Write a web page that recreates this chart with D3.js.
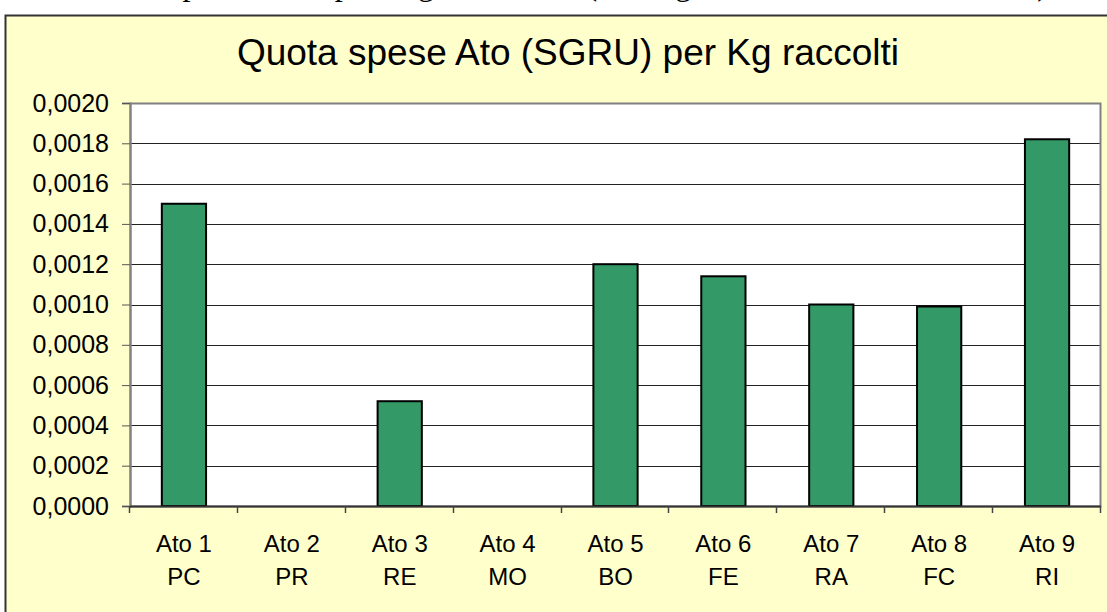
<!DOCTYPE html>
<html>
<head>
<meta charset="utf-8">
<script src="https://cdn.jsdelivr.net/npm/d3@7"></script>
<style>
  body { margin: 0; background: #fff; }
  svg { display: block; }
</style>
</head>
<body>
<svg id="drawing_region"></svg>
<script>
// data
const atoNames = ["Ato 1", "Ato 2", "Ato 3", "Ato 4", "Ato 5", "Ato 6", "Ato 7", "Ato 8", "Ato 9"];
const provinces = ["PC", "PR", "RE", "MO", "BO", "FE", "RA", "FC", "RI"];
const quota = [0.0015, 0, 0.00052, 0, 0.0012, 0.00114, 0.001, 0.00099, 0.00182];
const yTicks = [0, 0.0002, 0.0004, 0.0006, 0.0008, 0.0010, 0.0012, 0.0014, 0.0016, 0.0018, 0.0020];

const W = 1107, H = 612;
const plot = { left: 130, top: 103, right: 1101, bottom: 506 };

const svg = d3.select('#drawing_region')
    .attr('width', W)
    .attr('height', H);

// clipped caption line of the page above the chart
svg.append('text')
    .attr('x', 58)
    .attr('y', -5)
    .attr('textLength', 990)
    .attr('lengthAdjust', 'spacing')
    .style('font-family', '"Liberation Serif", "Times New Roman", serif')
    .style('font-size', '32px')
    .attr('fill', '#000')
    .text('Quota spese Ato per kg raccolti (dati gestione rifiuti urbani)');

// chart area box
svg.append('rect')
    .attr('x', 5.5)
    .attr('y', 15.5)
    .attr('width', W + 10)
    .attr('height', H + 10)
    .attr('fill', '#FFFFCC')
    .attr('stroke', '#333')
    .attr('stroke-width', 2);

svg.append('text')
    .attr('x', 568)
    .attr('y', 65)
    .attr('text-anchor', 'middle')
    .style('font-family', 'Arial, "Liberation Sans", sans-serif')
    .style('font-size', '37px')
    .text('Quota spese Ato (SGRU) per Kg raccolti');

const x = d3.scaleBand()
    .domain(atoNames)
    .range([plot.left, plot.right])
    .paddingInner(0.59)
    .paddingOuter(0.295);

const xBand = d3.scaleBand()
    .domain(atoNames)
    .range([plot.left, plot.right]);

const y = d3.scaleLinear()
    .domain([0, 0.002])
    .range([plot.bottom, plot.top]);

const fmt = v => d3.format('.4f')(v).replace('.', ',');

// plot background
svg.append('rect')
    .attr('x', plot.left)
    .attr('y', plot.top)
    .attr('width', plot.right - plot.left)
    .attr('height', plot.bottom - plot.top)
    .attr('fill', '#fff');

// gridlines
svg.append('g')
    .selectAll('line')
    .data(yTicks.slice(1))
    .join('line')
    .attr('x1', plot.left)
    .attr('x2', plot.right)
    .attr('y1', d => Math.round(y(d)) + 0.5)
    .attr('y2', d => Math.round(y(d)) + 0.5)
    .attr('stroke', '#222')
    .attr('stroke-width', 1);

// plot border
svg.append('rect')
    .attr('x', plot.left + 0.5)
    .attr('y', plot.top + 0.5)
    .attr('width', plot.right - plot.left - 1)
    .attr('height', plot.bottom - plot.top)
    .attr('fill', 'none')
    .attr('stroke', '#808080')
    .attr('stroke-width', 2);

// bars
svg.append('g')
    .selectAll('rect')
    .data(quota.map((v, i) => ({ name: atoNames[i], value: v })).filter(d => d.value > 0))
    .join('rect')
    .attr('x', d => x(d.name))
    .attr('y', d => y(d.value))
    .attr('width', x.bandwidth())
    .attr('height', d => y(0) - y(d.value))
    .attr('fill', '#339966')
    .attr('stroke', '#000')
    .attr('stroke-width', 2);

// y axis
const yAxis = svg.append('g')
    .attr('transform', `translate(${plot.left},0)`)
    .call(d3.axisLeft(y).tickValues(yTicks).tickFormat(fmt).tickSize(8).tickPadding(13));
yAxis.select('.domain').attr('stroke', '#808080').attr('stroke-width', 2);
yAxis.selectAll('.tick line').attr('stroke', '#555');
yAxis.selectAll('.tick text')
    .style('font-family', 'Arial, "Liberation Sans", sans-serif')
    .style('font-size', '25px')
    .attr('fill', '#000');

// x axis: line and ticks at category boundaries
svg.append('line')
    .attr('x1', plot.left)
    .attr('x2', plot.right)
    .attr('y1', plot.bottom + 0.5)
    .attr('y2', plot.bottom + 0.5)
    .attr('stroke', '#333')
    .attr('stroke-width', 2);

svg.append('g')
    .selectAll('line')
    .data(atoNames.concat(['end']))
    .join('line')
    .attr('x1', (d, i) => Math.round(plot.left + i * xBand.step()) - 0.5)
    .attr('x2', (d, i) => Math.round(plot.left + i * xBand.step()) - 0.5)
    .attr('y1', plot.bottom)
    .attr('y2', plot.bottom + 7)
    .attr('stroke', '#444')
    .attr('stroke-width', 1.5);

const labels = svg.append('g')
    .selectAll('text')
    .data(atoNames)
    .join('text')
    .attr('text-anchor', 'middle')
    .style('font-family', 'Arial, "Liberation Sans", sans-serif')
    .style('font-size', '24px')
    .attr('fill', '#000');

labels.append('tspan')
    .attr('x', d => xBand(d) + xBand.bandwidth() / 2)
    .attr('y', 552)
    .text(d => d);

labels.append('tspan')
    .attr('x', d => xBand(d) + xBand.bandwidth() / 2)
    .attr('y', 585)
    .text((d, i) => provinces[i]);
</script>
</body>
</html>
